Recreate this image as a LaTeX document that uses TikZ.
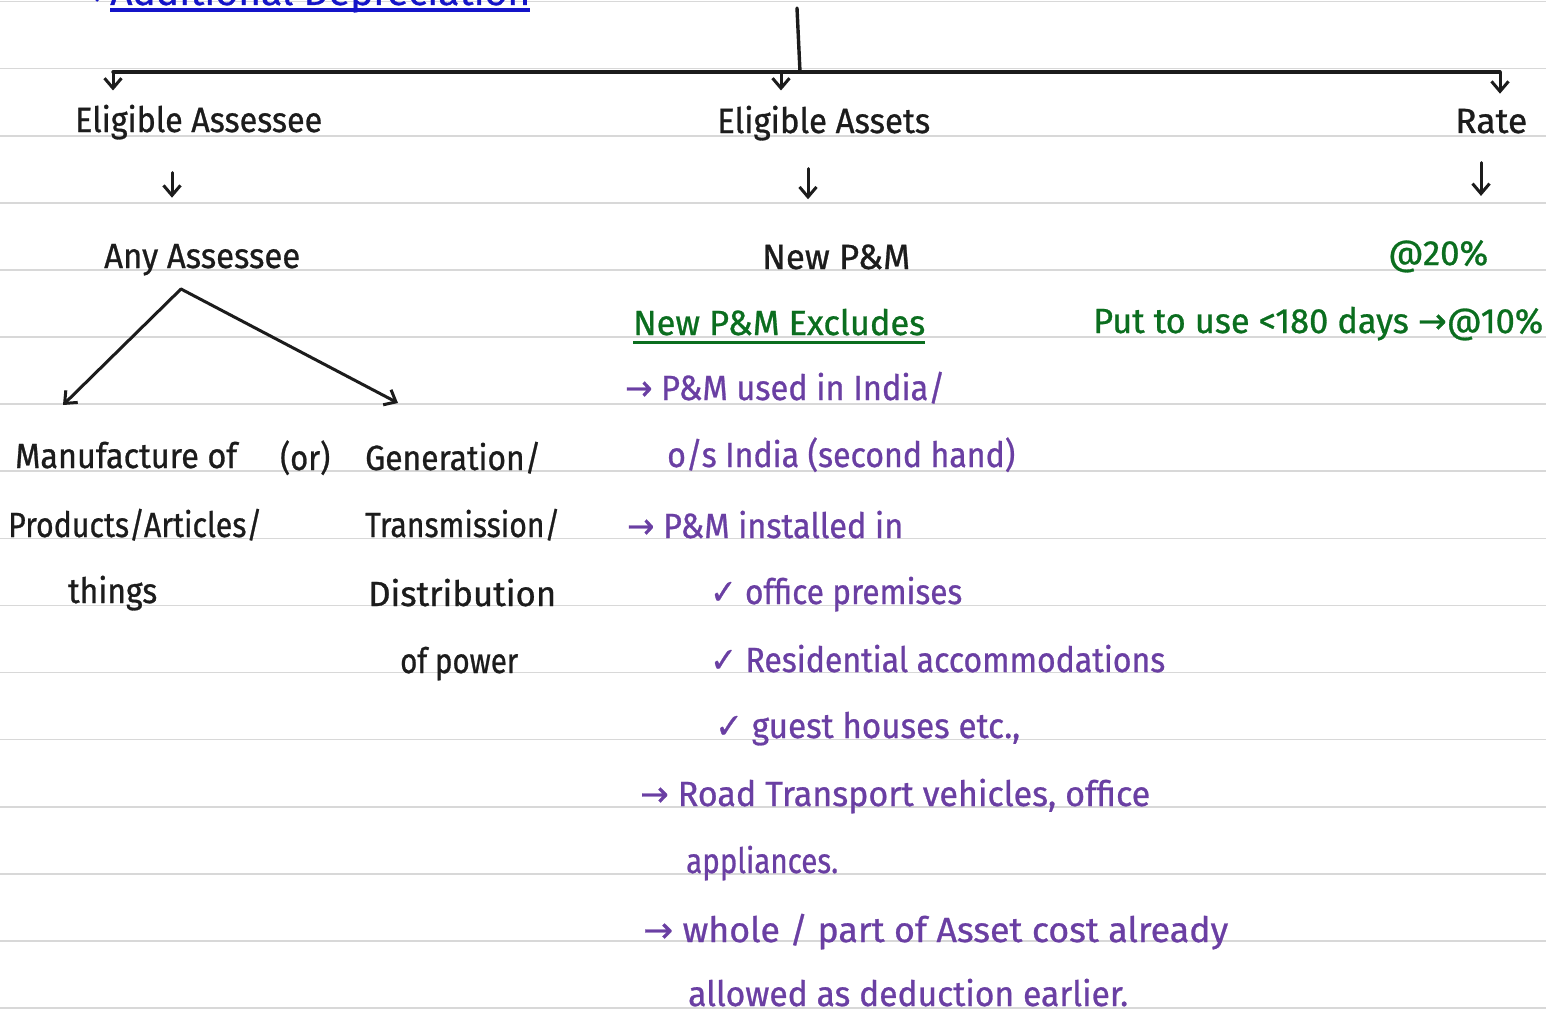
\documentclass[tikz,border=0pt]{standalone}
\usepackage{fontspec}
\setmainfont{Fira Sans}[FakeBold=0.8]
\newfontfamily\sym{DejaVu Sans}[FakeBold=0.8]
\usetikzlibrary{arrows.meta}
\definecolor{ink}{HTML}{1C1C1C}
\definecolor{pen}{HTML}{6A3FA3}
\definecolor{leaf}{HTML}{0B6E1F}
\definecolor{headblue}{HTML}{1414C8}
\definecolor{ruling}{HTML}{D8D8D8}
% set a handwritten line at a given width, keeping its natural height
\newcommand\hw[2]{\resizebox{#1pt}{\height}{#2}}
\tikzset{
  txt/.style={inner sep=0pt, anchor=base west, font=\fontsize{35}{42}\selectfont},
  blk/.style={txt, text=ink},
  prp/.style={txt, text=pen},
  grn/.style={txt, text=leaf},
  rule line/.style={ruling, line width=1.6pt},
  bar/.style={ink, line width=3.4pt, line cap=round},
  arr/.style={-{Straight Barb[length=10pt,width=17pt]}, ink, line width=3pt, line cap=round},
}
\begin{document}
\begin{tikzpicture}[x=1pt,y=-1pt]
\useasboundingbox (0,0) rectangle (1546,1014);
\clip (0,0) rectangle (1546,1014);
\fill[white] (0,0) rectangle (1546,1014);

% ruled paper
\foreach \k in {0,...,15}
  \draw[rule line] (0,{1.5+67.1*\k}) -- (1546,{1.5+67.1*\k});

% heading at the top edge
\node[txt, text=headblue] (tarr) at (76,5) {\sym →};
\node[txt, text=headblue] (ttl) at (110,5) {\hw{420}{Additional Depreciation}};
\draw[headblue, line width=3.5pt] ([yshift=-5pt]ttl.base west) -- ([yshift=-5pt]ttl.base east);

% three headings
\node[blk] (ea)   at (75,132)   {\hw{247}{Eligible Assessee}};
\node[blk] (eas)  at (717,133)  {\hw{213}{Eligible Assets}};
\node[blk] (rate) at (1455,133) {\hw{72}{Rate}};

% stem and bar
\coordinate (stem) at (797,8);
\coordinate (join) at (800,72);
\coordinate (bl) at (113,72);
\coordinate (bm) at (781,72);
\coordinate (br) at (1500,72);
\draw[bar] (stem) -- (join);
\draw[bar] (bl) -- (br);
\draw[arr, shorten >=14pt] (bl) -- (bl |- ea.north);
\draw[arr, shorten >=15pt] (bm) -- (bm |- eas.north);
\draw[arr, shorten >=15pt] (br) -- (br |- rate.north);

% second row
\node[blk] (any)   at (104,268)  {\hw{196}{Any Assessee}};
\node[blk] (newpm) at (762,269)  {\hw{148}{New P\&M}};
\node[grn] (r20)   at (1388,265) {\hw{100}{@20\%}};

\coordinate (x1) at (172,0);
\coordinate (x2) at (808,0);
\coordinate (x3) at (1481,0);
\draw[arr, shorten <=33pt, shorten >=46pt] (ea.south -| x1) -- (any.north -| x1);
\draw[arr, shorten <=28pt, shorten >=45pt] (eas.south -| x2) -- (newpm.north -| x2);
\draw[arr, shorten <=29pt, shorten >=44pt] (rate.south -| x3) -- (r20.north -| x3);

% split of the assessee branch
\coordinate (fork) at (181,289);
\coordinate (tl) at (63,405);
\coordinate (tr) at (398,403);
\draw[arr] (fork) -- (tl);
\draw[arr] (fork) -- (tr);

\node[blk] (mfg)    at (15,468)  {\hw{222}{Manufacture of}};
\node[blk] (or)     at (280,470) {\hw{50}{(or)}};
\node[blk] (gen)    at (365,470) {\hw{176}{Generation/}};
\node[blk] (prod)   at (8,537)   {\hw{254}{Products/Articles/}};
\node[blk] (trans)  at (365,537) {\hw{195}{Transmission/}};
\node[blk] (things) at (68,603)  {\hw{89}{things}};
\node[blk] (dist)   at (368,606) {\hw{188}{Distribution}};
\node[blk] (power)  at (400,673) {\hw{118}{of power}};

% exclusions
\node[grn] (excl) at (633,335) {\hw{292}{New P\&M Excludes}};
\draw[leaf, line width=3pt] ([yshift=-7pt]excl.south west) -- ([yshift=-7pt]excl.south east);
\node[grn] (put) at (1093,333) {\hw{450}{Put to use <180 days {\sym →}@10\%}};

\node[prp] (e1)  at (625,400)  {\hw{320}{{\sym →} P\&M used in India/}};
\node[prp] (e1b) at (667,467)  {\hw{348}{o/s India (second hand)}};
\node[prp] (e2)  at (627,538)  {\hw{276}{{\sym →} P\&M installed in}};
\node[prp] (e2a) at (710,604)  {\hw{252}{{\sym ✓} office premises}};
\node[prp] (e2b) at (710,672)  {\hw{455}{{\sym ✓} Residential accommodations}};
\node[prp] (e2c) at (715,738)  {\hw{305}{{\sym ✓} guest houses etc.,}};
\node[prp] (e3)  at (640,806)  {\hw{510}{{\sym →} Road Transport vehicles, office}};
\node[prp] (e3b) at (686,873)  {\hw{152}{appliances.}};
\node[prp] (e4)  at (643,942)  {\hw{585}{{\sym →} whole / part of Asset cost already}};
\node[prp] (e4b) at (688,1006) {\hw{440}{allowed as deduction earlier.}};
\end{tikzpicture}
\end{document}
